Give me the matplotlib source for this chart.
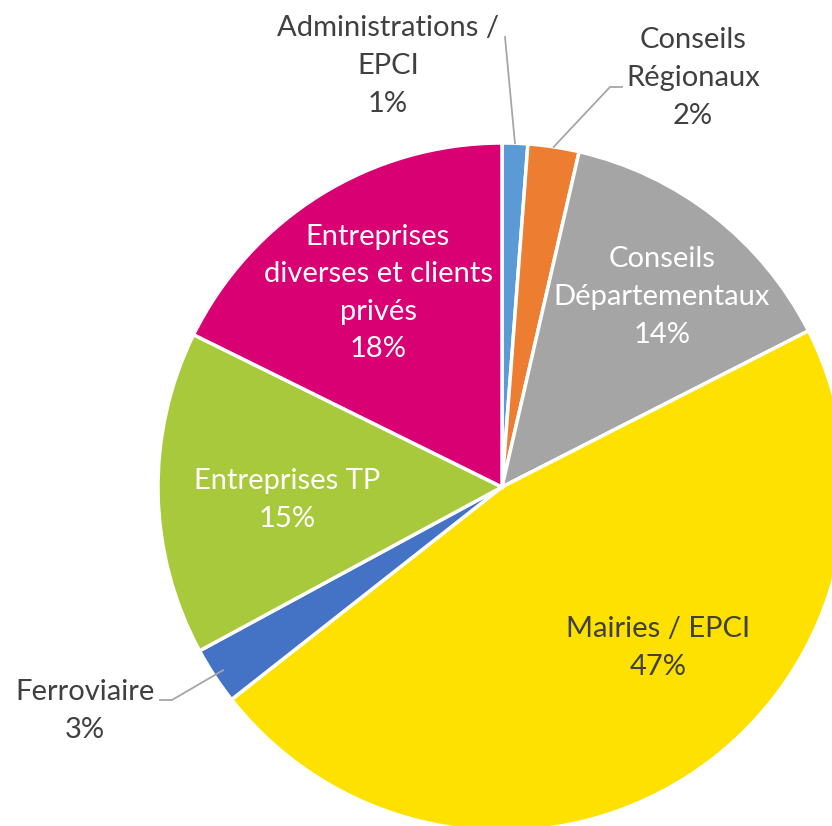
import numpy as np
import matplotlib
matplotlib.use("Agg")
import matplotlib.pyplot as plt

# slices, clockwise from 12 o'clock
categories = [
    "Administrations /\nEPCI",
    "Conseils\nRégionaux",
    "Conseils\nDépartementaux",
    "Mairies / EPCI",
    "Ferroviaire",
    "Entreprises TP",
    "Entreprises\ndiverses et clients\nprivés",
]
values = [1.2, 2.4, 13.9, 46.9, 2.7, 15.2, 17.7]
pct_labels = ["1%", "2%", "14%", "47%", "3%", "15%", "18%"]
colors = ["#5B9BD5", "#ED7D31", "#A5A5A5", "#FFE100", "#4472C4", "#A9C93C", "#D80073"]

W, H = 832, 826
CX, CY, R = 502, H - 487, 344

plt.rcParams["font.family"] = ["Lato", "DejaVu Sans"]
fig = plt.figure(figsize=(W / 100, H / 100), dpi=100)
ax = fig.add_axes([0, 0, 1, 1])

wedges, _ = ax.pie(values, colors=colors, startangle=90, counterclock=False,
                   center=(CX, CY), radius=R,
                   wedgeprops=dict(edgecolor="white", linewidth=2.5))
ax.set_xlim(0, W)
ax.set_ylim(0, H)
ax.set_aspect("equal")
ax.axis("off")

# label placement (pixel positions, top-left origin) and text colour
label_pos = [(388, 66), (693, 78), (662, 297), (658, 648), (85, 711), (287, 500), (378, 293)]
label_col = ["#404040", "#404040", "white", "#404040", "#404040", "white", "white"]
for cat, pct, (x, y), c in zip(categories, pct_labels, label_pos, label_col):
    ax.text(x, H - y, f"{cat}\n{pct}", ha="center", va="center", color=c,
            fontsize=21, linespacing=1.55)

# leader lines for the small outside labels
def edge_point(i, frac=1.0):
    w = wedges[i]
    a = np.deg2rad((w.theta1 + w.theta2) / 2)
    return CX + R * frac * np.cos(a), CY + R * frac * np.sin(a)

lc = "#A6A6A6"
x0, y0 = edge_point(0)
ax.plot([505, x0], [H - 37, y0], color=lc, lw=1.3)
x1, y1 = edge_point(1)
ax.plot([622, 610, x1], [H - 87, H - 87, y1], color=lc, lw=1.3)
x4, y4 = edge_point(4, 0.97)
ax.plot([160, 172, x4], [H - 700, H - 700, y4], color=lc, lw=1.3)

fig.savefig("out.png", dpi=100)
